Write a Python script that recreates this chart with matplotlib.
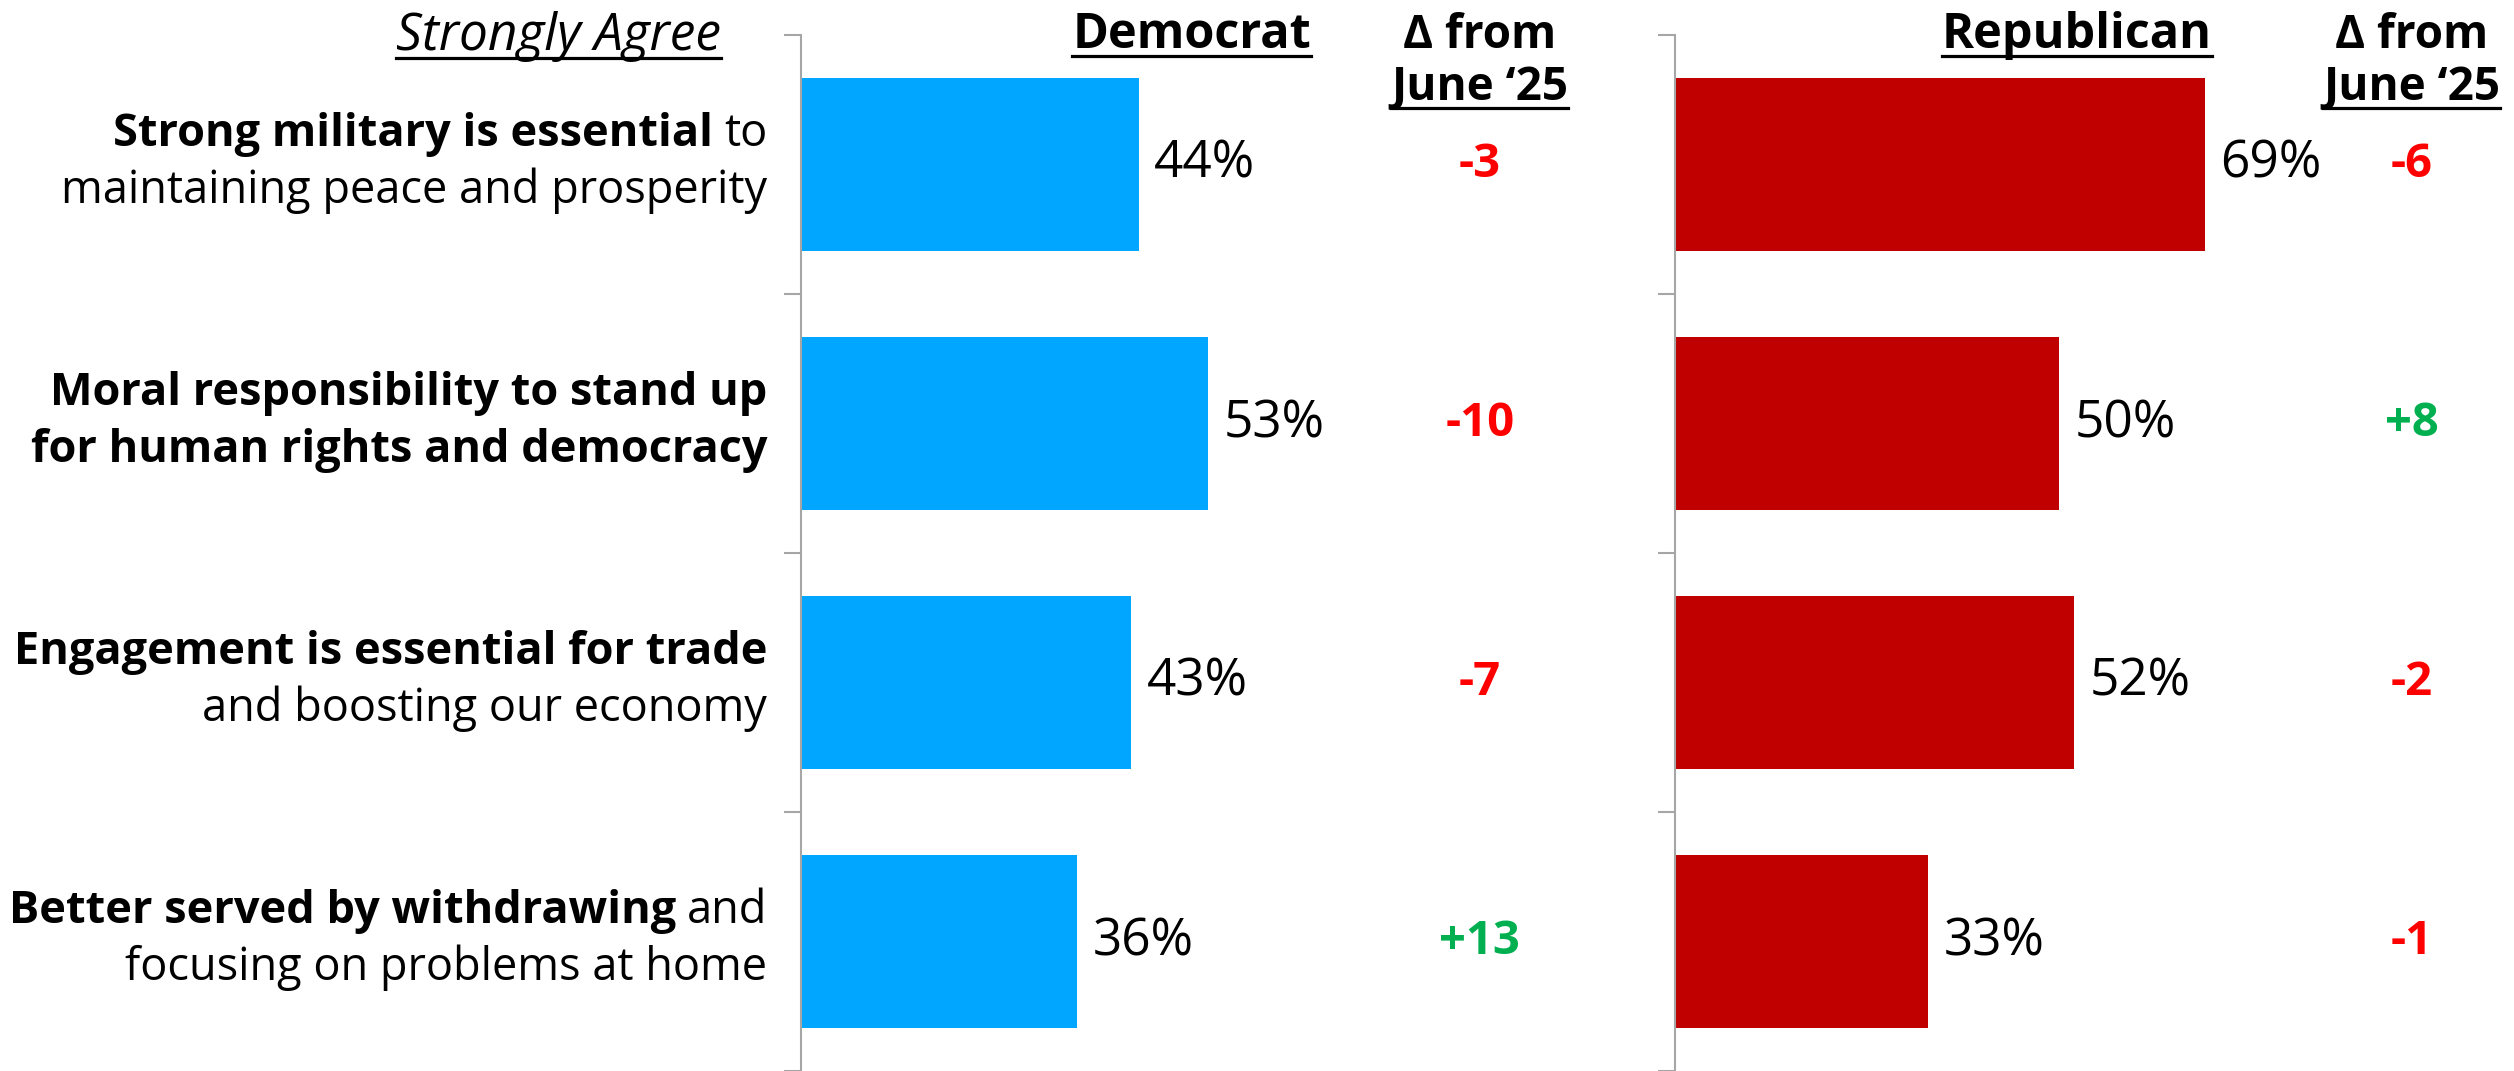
import matplotlib.pyplot as plt
from matplotlib import transforms
from matplotlib.lines import Line2D

plt.rcParams['font.family'] = ['Open Sans', 'DejaVu Sans']

# (bold part, regular part) for each line of each category label
label_lines = [
    [("Strong military is essential", "to"), ("", "maintaining peace and prosperity")],
    [("Moral responsibility to stand up", ""), ("for human rights and democracy", "")],
    [("Engagement is essential for trade", ""), ("", "and boosting our economy")],
    [("Better served by withdrawing", "and"), ("", "focusing on problems at home")],
]
dem_values = [44, 53, 43, 36]
dem_change = [-3, -10, -7, 13]
rep_values = [69, 50, 52, 33]
rep_change = [-6, 8, -2, -1]

dem_color = '#00A6FF'
rep_color = '#C00000'
up_color = '#00B050'
down_color = '#FF0000'
spine_color = '#A6A6A6'

W, H = 2514, 1071
fig = plt.figure(figsize=(W / 100, H / 100), dpi=100)

ax_top = 35
ax_w = 768  # 100 data units
ax_dem = fig.add_axes([801 / W, 0, ax_w / W, (H - ax_top) / H])
ax_rep = fig.add_axes([1675 / W, 0, ax_w / W, (H - ax_top) / H])

y = list(range(len(dem_values)))
to_underline = []

for ax, vals, chg, col, name, hx, dx in [(ax_dem, dem_values, dem_change, dem_color, 'Democrat', 66.4, 88.4),
                                         (ax_rep, rep_values, rep_change, rep_color, 'Republican', 69.9, 95.9)]:
    ax.barh(y, vals, height=0.67, color=col)
    ax.set_xlim(0, 100)
    ax.set_ylim(3.5, -0.5)
    for s in ['top', 'right', 'bottom']:
        ax.spines[s].set_visible(False)
    ax.spines['left'].set_color(spine_color)
    ax.spines['left'].set_linewidth(1.5)
    ax.set_xticks([])
    ax.set_yticks([-0.5, 0.5, 1.5, 2.5, 3.5])
    ax.set_yticklabels([])
    ax.tick_params(axis='y', length=12, width=1.5, color=spine_color, direction='out')

    for i, v in enumerate(vals):
        ax.text(v + 2, i, f"{v}%", fontsize=37, va='center', ha='left')
        c = chg[i]
        ax.text(dx, i, f"{c:+d}", fontsize=34, fontweight='bold', va='center', ha='center',
                color=up_color if c > 0 else down_color)

    t = ax.text(hx, -0.45, name, fontsize=35, fontweight='bold',
                ha='right', va='baseline', clip_on=False)
    to_underline.append(t)
    ax.text(dx, -0.45, "\u0394 from", fontsize=33, fontweight='bold', ha='center', va='baseline', clip_on=False)
    t = ax.text(dx, -0.25, "June \u201825", fontsize=33, fontweight='bold', ha='center', va='baseline',
                clip_on=False)
    to_underline.append(t)

t = ax_dem.text(-10.4, -0.443, "Strongly Agree", fontsize=37, style='italic', ha='right', va='baseline',
                clip_on=False)
to_underline.append(t)

fig.canvas.draw()
renderer = fig.canvas.get_renderer()

# category labels with mixed bold / regular text, right aligned
label_x = -4.4
space_px = 11
for i, lines in enumerate(label_lines):
    for j, (bold, normal) in enumerate(lines):
        yy = i - 0.072 + j * 0.222
        off = 0
        if normal:
            tn = ax_dem.text(label_x, yy, normal, fontsize=32.5, ha='right', va='baseline', clip_on=False)
            off = tn.get_window_extent(renderer).width + space_px
        if bold:
            tr = transforms.offset_copy(ax_dem.transData, fig=fig, x=-off, y=0, units='dots')
            ax_dem.text(label_x, yy, bold, fontsize=32.5, fontweight='bold', ha='right', va='baseline',
                        transform=tr, clip_on=False)

fig.canvas.draw()
inv = fig.transFigure.inverted()
for t in to_underline:
    bb = t.get_window_extent(renderer)
    base = t.get_transform().transform(t.get_position())[1]
    yl = base - 8
    (x0, y0), (x1, y1) = inv.transform([(bb.x0, yl), (bb.x1, yl)])
    fig.add_artist(Line2D([x0, x1], [y0, y1], transform=fig.transFigure, color='black', linewidth=2.3))

fig.savefig('out.png', dpi=100)
